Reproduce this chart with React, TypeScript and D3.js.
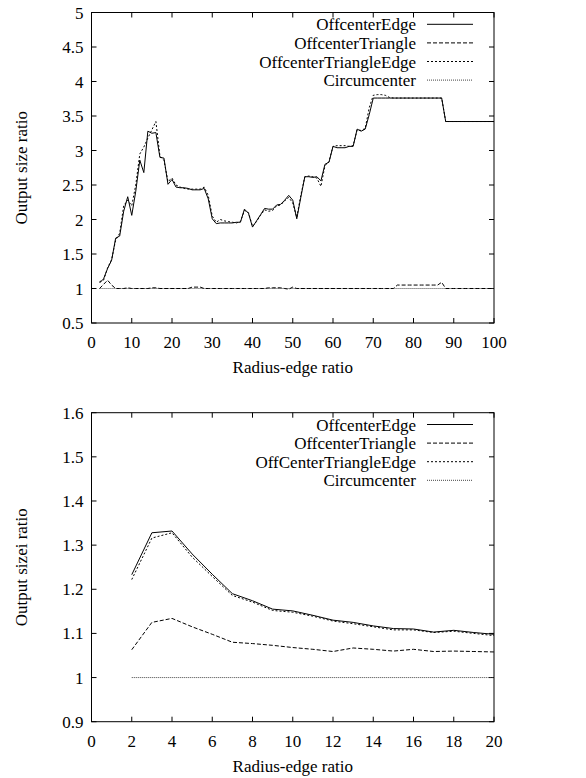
import * as React from 'react';
import * as d3 from 'd3';

// radius-edge ratio, top panel: 2..100
const xTop: number[] = d3.range(2, 101);
// radius-edge ratio, bottom panel: 2..20
const xBottom: number[] = d3.range(2, 21);

const seriesNames: string[] = ['OffcenterEdge', 'OffcenterTriangle', 'OffcenterTriangleEdge', 'Circumcenter'];
const seriesNamesBottom: string[] = ['OffcenterEdge', 'OffcenterTriangle', 'OffCenterTriangleEdge', 'Circumcenter'];

const edgeTop: number[] = [
	1.08, 1.14, 1.29, 1.41, 1.73, 1.76, 2.12, 2.33, 2.06, 2.41,
	2.86, 2.68, 3.28, 3.25, 3.26, 2.9, 2.89, 2.51, 2.58, 2.47,
	2.46, 2.46, 2.45, 2.43, 2.43, 2.43, 2.45, 2.3, 2.01, 1.94,
	1.95, 1.95, 1.95, 1.95, 1.96, 1.96, 2.15, 2.09, 1.89, 1.98,
	2.07, 2.16, 2.15, 2.15, 2.21, 2.22, 2.28, 2.35, 2.28, 2.01,
	2.32, 2.62, 2.62, 2.61, 2.62, 2.56, 2.8, 2.83, 3.06, 3.04,
	3.04, 3.04, 3.06, 3.06, 3.31, 3.28, 3.31, 3.52, 3.76, 3.76,
	3.76, 3.76, 3.76, 3.76, 3.76, 3.76, 3.76, 3.76, 3.76, 3.76,
	3.76, 3.76, 3.76, 3.76, 3.76, 3.76, 3.42, 3.42, 3.42, 3.42,
	3.42, 3.42, 3.42, 3.42, 3.42, 3.42, 3.42, 3.42, 3.42,
];

const triangleTop: number[] = [
	1.0, 1.06, 1.12, 1.05, 1.0, 1.0, 1.0, 1.01, 1.0, 1.0,
	1.0, 1.0, 1.0, 1.01, 1.01, 1.0, 1.0, 1.0, 1.0, 1.0,
	1.0, 1.0, 1.0, 1.02, 1.02, 1.02, 1.0, 1.0, 1.0, 1.0,
	1.0, 1.0, 1.0, 1.0, 1.0, 1.0, 1.0, 1.0, 1.0, 1.0,
	1.0, 1.0, 1.01, 1.01, 1.01, 1.01, 1.0, 0.99, 1.02, 1.0,
	1.0, 1.0, 1.0, 1.0, 1.0, 1.0, 1.0, 1.0, 1.0, 1.0,
	1.0, 1.0, 1.0, 1.0, 1.0, 1.0, 1.0, 1.0, 1.0, 1.0,
	1.0, 1.0, 1.0, 1.0, 1.05, 1.05, 1.05, 1.05, 1.05, 1.05,
	1.05, 1.05, 1.05, 1.05, 1.05, 1.09, 1.0, 1.0, 1.0, 1.0,
	1.0, 1.0, 1.0, 1.0, 1.0, 1.0, 1.0, 1.0, 1.0,
];

const triangleEdgeTop: number[] = [
	1.1, 1.12, 1.3, 1.42, 1.7, 1.8, 2.2, 2.28, 2.2, 2.5,
	2.95, 3.05, 3.18, 3.3, 3.42, 2.92, 2.86, 2.55, 2.6, 2.5,
	2.47, 2.45, 2.44, 2.44, 2.44, 2.44, 2.47, 2.35, 2.05, 1.96,
	2.0, 1.98, 1.97, 1.96, 1.95, 1.97, 2.13, 2.1, 1.9, 1.97,
	2.06, 2.14, 2.12, 2.13, 2.2, 2.21, 2.27, 2.32, 2.24, 2.03,
	2.35, 2.62, 2.63, 2.62, 2.6, 2.48, 2.78, 2.84, 3.06, 3.07,
	3.07, 3.07, 3.06, 3.07, 3.3, 3.29, 3.32, 3.62, 3.8, 3.81,
	3.81, 3.8, 3.77, 3.76, 3.76, 3.76, 3.76, 3.76, 3.76, 3.76,
	3.76, 3.76, 3.76, 3.76, 3.76, 3.76, 3.42, 3.42, 3.42, 3.42,
	3.42, 3.42, 3.42, 3.42, 3.42, 3.42, 3.42, 3.42, 3.42,
];

const circumTop: number[] = [
	1, 1, 1, 1, 1, 1, 1, 1, 1, 1,
	1, 1, 1, 1, 1, 1, 1, 1, 1, 1,
	1, 1, 1, 1, 1, 1, 1, 1, 1, 1,
	1, 1, 1, 1, 1, 1, 1, 1, 1, 1,
	1, 1, 1, 1, 1, 1, 1, 1, 1, 1,
	1, 1, 1, 1, 1, 1, 1, 1, 1, 1,
	1, 1, 1, 1, 1, 1, 1, 1, 1, 1,
	1, 1, 1, 1, 1, 1, 1, 1, 1, 1,
	1, 1, 1, 1, 1, 1, 1, 1, 1, 1,
	1, 1, 1, 1, 1, 1, 1, 1, 1,
];

const edgeBottom: number[] = [
	1.233, 1.328, 1.332, 1.28, 1.234, 1.19, 1.174, 1.155, 1.151, 1.141,
	1.13, 1.125, 1.117, 1.111, 1.11, 1.103, 1.107, 1.102, 1.098,
];
const triangleBottom: number[] = [
	1.063, 1.125, 1.134, 1.115, 1.098, 1.08, 1.077, 1.073, 1.068, 1.064,
	1.059, 1.067, 1.064, 1.06, 1.064, 1.059, 1.06, 1.059, 1.058,
];
const triangleEdgeBottom: number[] = [
	1.222, 1.316, 1.328, 1.273, 1.229, 1.186, 1.171, 1.152, 1.148, 1.139,
	1.128, 1.122, 1.115, 1.108, 1.108, 1.102, 1.105, 1.1, 1.095,
];
const circumBottom: number[] = [
	1, 1, 1, 1, 1, 1, 1, 1, 1, 1,
	1, 1, 1, 1, 1, 1, 1, 1, 1,
];

const xTicksTop: number[] = [0, 10, 20, 30, 40, 50, 60, 70, 80, 90, 100];
const yTicksTop: number[] = [0.5, 1, 1.5, 2, 2.5, 3, 3.5, 4, 4.5, 5];
const xTicksBottom: number[] = [0, 2, 4, 6, 8, 10, 12, 14, 16, 18, 20];
const yTicksBottom: number[] = [0.9, 1, 1.1, 1.2, 1.3, 1.4, 1.5, 1.6];

// line styles in legend order: solid, dashed, dotted, fine dotted
const dashes: string[] = ['none', '4,2', '2,2', '1,1'];
const strokes: string[] = ['#000', '#000', '#000', '#444'];

const FONT = '"Liberation Serif", "Times New Roman", serif';

interface IPanelProps {
	top: number;
	bottom: number;
	xs: number[];
	series: number[][];
	names: string[];
	xDomain: [number, number];
	yDomain: [number, number];
	xTicks: number[];
	yTicks: number[];
	yLabel: string;
}

const LEFT = 91.5;
const RIGHT = 494;
const TICK = 5;

function Panel(props: IPanelProps) {
	const x = d3.scaleLinear().domain(props.xDomain).range([LEFT, RIGHT]);
	const y = d3.scaleLinear().domain(props.yDomain).range([props.bottom, props.top]);
	const line = d3
		.line<number>()
		.x((_d, i) => x(props.xs[i]))
		.y((d) => y(d));

	return (
		<g fontFamily={FONT} fontSize={17} fill="#000">
			{/* frame */}
			<rect x={LEFT} y={props.top} width={RIGHT - LEFT} height={props.bottom - props.top} fill="none" stroke="#000" strokeWidth={1} />
			{/* x ticks, bottom and top mirrored */}
			{props.xTicks.map((t) => (
				<g key={'x' + t}>
					<line x1={x(t)} x2={x(t)} y1={props.bottom} y2={props.bottom - TICK} stroke="#000" />
					<line x1={x(t)} x2={x(t)} y1={props.top} y2={props.top + TICK} stroke="#000" />
					<text x={x(t)} y={props.bottom + 25} textAnchor="middle">
						{t}
					</text>
				</g>
			))}
			{/* y ticks, left and right mirrored */}
			{props.yTicks.map((t) => (
				<g key={'y' + t}>
					<line x1={LEFT} x2={LEFT + TICK} y1={y(t)} y2={y(t)} stroke="#000" />
					<line x1={RIGHT} x2={RIGHT - TICK} y1={y(t)} y2={y(t)} stroke="#000" />
					<text x={LEFT - 8} y={y(t) + 6} textAnchor="end">
						{t}
					</text>
				</g>
			))}
			<text x={(LEFT + RIGHT) / 2} y={props.bottom + 50} textAnchor="middle">
				Radius-edge ratio
			</text>
			<text transform={`translate(27,${(props.top + props.bottom) / 2}) rotate(-90)`} textAnchor="middle">
				{props.yLabel}
			</text>
			{/* series lines, drawn back to front */}
			{props.series
				.map((s, i) => (
					<path
						key={'s' + i}
						d={line(s) || ''}
						fill="none"
						stroke={strokes[i]}
						strokeWidth={1}
						strokeDasharray={dashes[i]}
					/>
				))
				.reverse()}
			{/* legend */}
			{props.names.map((n, i) => {
				const ly = props.top + 11.8 + i * 18.6;
				return (
					<g key={'l' + i}>
						<text x={416} y={ly + 6} textAnchor="end">
							{n}
						</text>
						<line x1={427} x2={473} y1={ly} y2={ly} stroke={strokes[i]} strokeWidth={1} strokeDasharray={dashes[i]} />
					</g>
				);
			})}
		</g>
	);
}

export default function App() {
	return (
		<svg width={586} height={778} viewBox="0 0 586 778" style={{ position: 'absolute', left: 0, top: 0, background: '#fff' }}>
			<rect width={586} height={778} fill="#fff" />
			<Panel
				top={12.5}
				bottom={323}
				xs={xTop}
				series={[edgeTop, triangleTop, triangleEdgeTop, circumTop]}
				names={seriesNames}
				xDomain={[0, 100]}
				yDomain={[0.5, 5]}
				xTicks={xTicksTop}
				yTicks={yTicksTop}
				yLabel="Output size ratio"
			/>
			<Panel
				top={412.7}
				bottom={721.7}
				xs={xBottom}
				series={[edgeBottom, triangleBottom, triangleEdgeBottom, circumBottom]}
				names={seriesNamesBottom}
				xDomain={[0, 20]}
				yDomain={[0.9, 1.6]}
				xTicks={xTicksBottom}
				yTicks={yTicksBottom}
				yLabel="Output sizei ratio"
			/>
		</svg>
	);
}
